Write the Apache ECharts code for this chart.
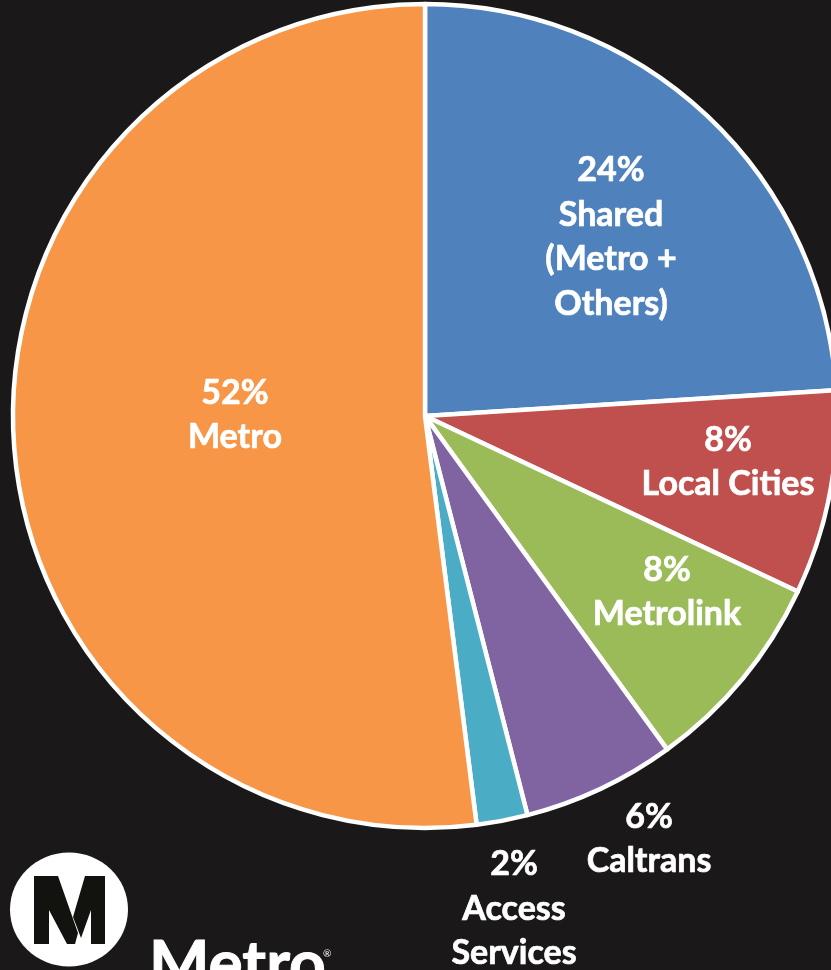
<!DOCTYPE html>
<html>
<head>
<meta charset="utf-8">
<style>
  html, body { margin: 0; padding: 0; background: #1a1818; overflow: hidden; }
  #main { width: 831px; height: 970px; }
</style>
<script src="https://cdn.jsdelivr.net/npm/echarts@6/dist/echarts.min.js"></script>
</head>
<body>
<div id="main"></div>
<script>
var names = ['Shared\n(Metro +\nOthers)', 'Local Cities', 'Metrolink', 'Caltrans', 'Access\nServices', 'Metro'];
var values = [24, 8, 8, 6, 2, 52];
var colors = ['#4f81bd', '#c0504d', '#9bbb59', '#8064a2', '#4bacc6', '#f79646'];

// label centres, same order as names
var labelX = [611, 728, 667, 649, 514, 235];
var labelY = [237, 462, 592, 839, 909, 415];

var chart = echarts.init(document.getElementById('main'), null, { renderer: 'canvas' });

var options = {
  backgroundColor: '#1a1818',
  animation: false,
  series: [
    {
      type: 'pie',
      center: [425, 416],
      radius: [0, 412],
      startAngle: 90,
      clockwise: true,
      silent: true,
      data: names.map(function (n, i) {
        return { name: n, value: values[i], itemStyle: { color: colors[i] } };
      }),
      itemStyle: {
        borderColor: '#ffffff',
        borderWidth: 4.5
      },
      label: {
        show: true,
        position: 'inside',
        formatter: function (p) {
          return p.value + '%\n' + p.name;
        },
        color: '#ffffff',
        fontFamily: 'Lato',
        fontWeight: 'bold',
        fontSize: 34,
        lineHeight: 44.5,
        align: 'center',
        textBorderColor: '#ffffff',
        textBorderWidth: 0.7
      },
      labelLine: { show: false },
      labelLayout: function (p) {
        return {
          x: labelX[p.dataIndex],
          y: labelY[p.dataIndex],
          align: 'center',
          verticalAlign: 'middle'
        };
      }
    }
  ],
  graphic: [
    // logo
    { type: 'ellipse', shape: { cx: 69, cy: 909.5, rx: 59, ry: 57 }, style: { fill: '#ffffff' } },
    {
      type: 'polygon',
      shape: { points: [[34, 876], [58, 876], [78, 933], [75, 944], [67, 944], [49, 910], [49, 944], [34, 944]] },
      style: { fill: '#12120f' }
    },
    {
      type: 'polygon',
      shape: { points: [[85, 876], [105, 876], [105, 944], [91, 944], [91, 910], [81, 938], [73, 917]] },
      style: { fill: '#12120f' }
    },
    {
      type: 'text',
      x: 149,
      y: 997,
      style: {
        text: 'Metro',
        fill: '#ffffff',
        stroke: '#ffffff',
        lineWidth: 1,
        fontFamily: 'Lato',
        fontWeight: 'bold',
        fontSize: 64,
        textVerticalAlign: 'bottom'
      }
    },
    {
      type: 'text',
      x: 323,
      y: 949,
      style: { text: '®', fill: '#ffffff', fontFamily: 'Lato', fontSize: 10 }
    }
  ]
};

chart.setOption(options);
</script>
</body>
</html>
